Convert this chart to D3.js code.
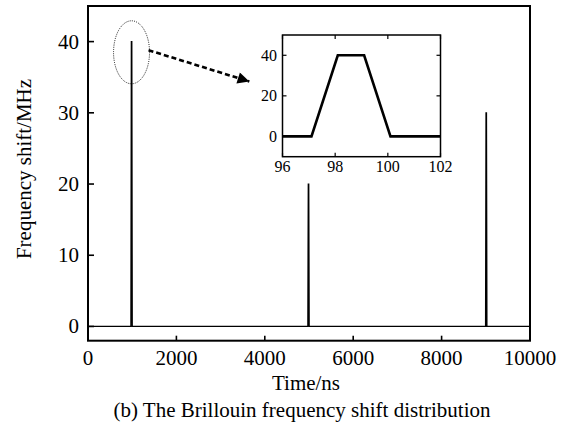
<!DOCTYPE html>
<html>
<head>
<meta charset="utf-8">
<script src="https://cdn.jsdelivr.net/npm/d3@7"></script>
<style>
  html, body { margin: 0; padding: 0; background: #fff; }
  svg text { font-family: "Liberation Serif", "Times New Roman", serif; fill: #000; }
</style>
</head>
<body>
<svg id="chart" width="568" height="431"></svg>
<script>
// Brillouin frequency shift along the fibre (time in ns, shift in MHz)
const pulseTimes = [0, 971, 981, 991, 1001, 4974, 4984, 4994, 5004, 8995, 9005, 9015, 9025, 10000];
const pulseShift = [0, 0, 40, 40, 0, 0, 20, 20, 0, 0, 30, 30, 0, 0];

// Zoomed view of the first pulse (time axis in units of 10 ns)
const zoomTimes = [96, 97.1, 98.1, 99.1, 100.1, 102];
const zoomShift = [0, 0, 40, 40, 0, 0];

const mainXTicks = [0, 2000, 4000, 6000, 8000, 10000];
const mainYTicks = [0, 10, 20, 30, 40];
const zoomXTicks = [96, 98, 100, 102];
const zoomYTicks = [0, 20, 40];

const svg = d3.select("#chart");

// ---- main panel ----
const x = d3.scaleLinear().domain([0, 10000]).range([88, 530]);
const y = d3.scaleLinear().domain([-2, 45]).range([340.7, 6]);

const main = svg.append("g");

const line = d3.line().x((d, i) => x(pulseTimes[i])).y(d => y(d));
main.append("path")
  .datum(pulseShift)
  .attr("d", line)
  .attr("fill", "none")
  .attr("stroke", "#000")
  .attr("stroke-width", 1.3)
  .attr("stroke-linejoin", "miter");

// inward ticks on left and bottom
main.selectAll(".yt").data(mainYTicks).enter().append("line")
  .attr("x1", x(0)).attr("x2", x(0) + 6)
  .attr("y1", d => y(d)).attr("y2", d => y(d))
  .attr("stroke", "#000").attr("stroke-width", 1.6);
main.selectAll(".xt").data(mainXTicks.slice(1, -1)).enter().append("line")
  .attr("x1", d => x(d)).attr("x2", d => x(d))
  .attr("y1", y.range()[0]).attr("y2", y.range()[0] - 5)
  .attr("stroke", "#000").attr("stroke-width", 1.6);

main.append("rect")
  .attr("x", x.range()[0]).attr("y", y.range()[1])
  .attr("width", x.range()[1] - x.range()[0])
  .attr("height", y.range()[0] - y.range()[1])
  .attr("fill", "none").attr("stroke", "#000").attr("stroke-width", 2);

main.selectAll(".yl").data(mainYTicks).enter().append("text")
  .attr("x", 79).attr("y", d => y(d) + 7)
  .attr("text-anchor", "end").attr("font-size", 21)
  .text(d => d);
main.selectAll(".xl").data(mainXTicks).enter().append("text")
  .attr("x", d => x(d)).attr("y", 365)
  .attr("text-anchor", "middle").attr("font-size", 21)
  .text(d => d);

svg.append("text")
  .attr("x", 306).attr("y", 390)
  .attr("text-anchor", "middle").attr("font-size", 21)
  .text("Time/ns");
svg.append("text")
  .attr("transform", "translate(31,169) rotate(-90)")
  .attr("text-anchor", "middle").attr("font-size", 21)
  .text("Frequency shift/MHz");
svg.append("text")
  .attr("x", 302).attr("y", 417)
  .attr("text-anchor", "middle").attr("font-size", 21)
  .text("(b) The Brillouin frequency shift distribution");

// ---- highlight of the first pulse and pointer to the zoom ----
svg.append("ellipse")
  .attr("cx", x(985)).attr("cy", y(38.5))
  .attr("rx", 18).attr("ry", 31.5)
  .attr("fill", "none").attr("stroke", "#000")
  .attr("stroke-width", 0.9).attr("stroke-dasharray", "1,1.2");

const defs = svg.append("defs");
defs.append("marker")
  .attr("id", "head")
  .attr("viewBox", "0 0 10 10")
  .attr("refX", 10).attr("refY", 5)
  .attr("markerWidth", 5.5).attr("markerHeight", 4.5)
  .attr("markerUnits", "strokeWidth")
  .attr("orient", "auto")
  .append("path").attr("d", "M0,0 L10,5 L0,10 Z").attr("fill", "#000");

svg.append("line")
  .attr("x1", x(1370)).attr("y1", y(38.8))
  .attr("x2", x(3650)).attr("y2", y(34.4))
  .attr("stroke", "#000").attr("stroke-width", 2.6)
  .attr("stroke-dasharray", "5,3")
  .attr("marker-end", "url(#head)");

// ---- inset ----
const xi = d3.scaleLinear().domain([96, 102]).range([282.5, 440.5]);
const yi = d3.scaleLinear().domain([-10, 50]).range([156.7, 35]);
const inset = svg.append("g");

inset.append("rect")
  .attr("x", 282.5).attr("y", 35).attr("width", 158).attr("height", 121.7)
  .attr("fill", "#fff");

const iline = d3.line().x((d, i) => xi(zoomTimes[i])).y(d => yi(d));
inset.append("path")
  .datum(zoomShift)
  .attr("d", iline)
  .attr("fill", "none").attr("stroke", "#000")
  .attr("stroke-width", 2.6).attr("stroke-linejoin", "miter");

zoomYTicks.forEach(t => {
  inset.append("line").attr("x1", xi(96)).attr("x2", xi(96) + 4)
    .attr("y1", yi(t)).attr("y2", yi(t)).attr("stroke", "#000").attr("stroke-width", 1.2);
  inset.append("line").attr("x1", xi(102)).attr("x2", xi(102) - 4)
    .attr("y1", yi(t)).attr("y2", yi(t)).attr("stroke", "#000").attr("stroke-width", 1.2);
});
zoomXTicks.forEach(t => {
  inset.append("line").attr("x1", xi(t)).attr("x2", xi(t))
    .attr("y1", yi(-10)).attr("y2", yi(-10) - 4).attr("stroke", "#000").attr("stroke-width", 1.2);
  inset.append("line").attr("x1", xi(t)).attr("x2", xi(t))
    .attr("y1", yi(50)).attr("y2", yi(50) + 4).attr("stroke", "#000").attr("stroke-width", 1.2);
});

inset.append("rect")
  .attr("x", 282.5).attr("y", 35).attr("width", 158).attr("height", 121.7)
  .attr("fill", "none").attr("stroke", "#000").attr("stroke-width", 1.5);

inset.selectAll(".iyl").data(zoomYTicks).enter().append("text")
  .attr("x", 277).attr("y", d => yi(d) + 5.5)
  .attr("text-anchor", "end").attr("font-size", 16)
  .text(d => d);
inset.selectAll(".ixl").data(zoomXTicks).enter().append("text")
  .attr("x", d => xi(d)).attr("y", 172)
  .attr("text-anchor", "middle").attr("font-size", 16)
  .text(d => d);
</script>
</body>
</html>
